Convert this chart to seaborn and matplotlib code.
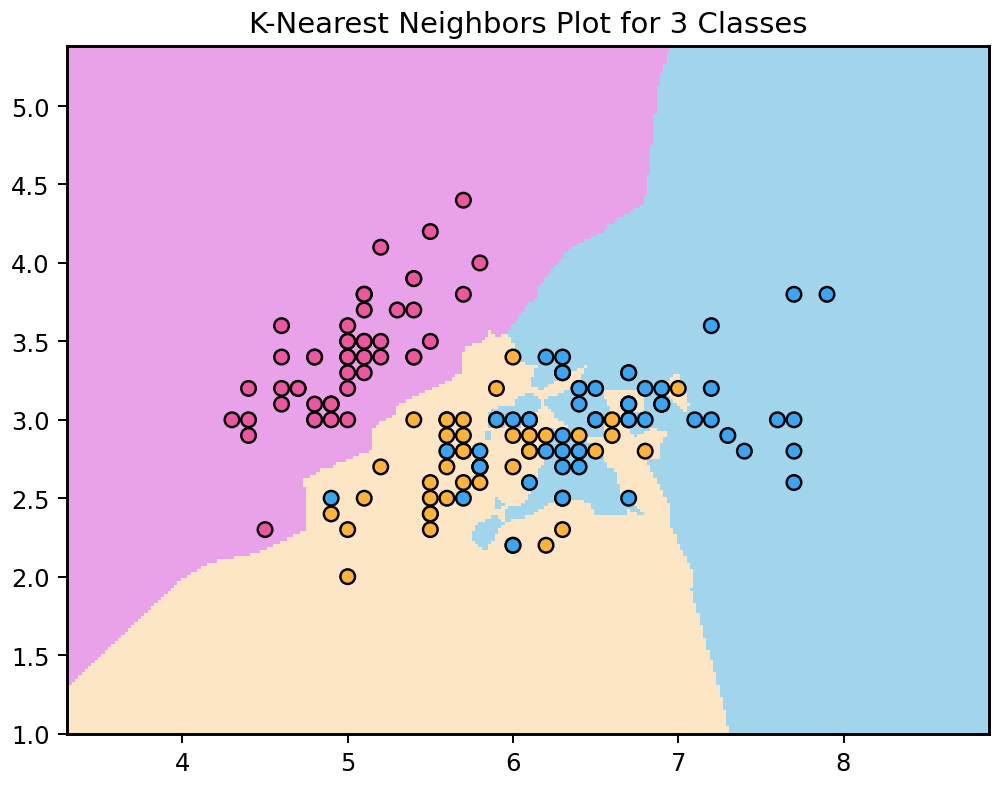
import numpy as np
import pandas as pd
import matplotlib
matplotlib.use("Agg")
import matplotlib.pyplot as plt
import seaborn as sns
from matplotlib.colors import ListedColormap

# iris sepal measurements (UCI version), one list per class
setosa_length = [5.1, 4.9, 4.7, 4.6, 5.0, 5.4, 4.6, 5.0, 4.4, 4.9,
                 5.4, 4.8, 4.8, 4.3, 5.8, 5.7, 5.4, 5.1, 5.7, 5.1,
                 5.4, 5.1, 4.6, 5.1, 4.8, 5.0, 5.0, 5.2, 5.2, 4.7,
                 4.8, 5.4, 5.2, 5.5, 4.9, 5.0, 5.5, 4.9, 4.4, 5.1,
                 5.0, 4.5, 4.4, 5.0, 5.1, 4.8, 5.1, 4.6, 5.3, 5.0]
setosa_width = [3.5, 3.0, 3.2, 3.1, 3.6, 3.9, 3.4, 3.4, 2.9, 3.1,
                3.7, 3.4, 3.0, 3.0, 4.0, 4.4, 3.9, 3.5, 3.8, 3.8,
                3.4, 3.7, 3.6, 3.3, 3.4, 3.0, 3.4, 3.5, 3.4, 3.2,
                3.1, 3.4, 4.1, 4.2, 3.1, 3.2, 3.5, 3.1, 3.0, 3.4,
                3.5, 2.3, 3.2, 3.5, 3.8, 3.0, 3.8, 3.2, 3.7, 3.3]
versicolor_length = [7.0, 6.4, 6.9, 5.5, 6.5, 5.7, 6.3, 4.9, 6.6, 5.2,
                     5.0, 5.9, 6.0, 6.1, 5.6, 6.7, 5.6, 5.8, 6.2, 5.6,
                     5.9, 6.1, 6.3, 6.1, 6.4, 6.6, 6.8, 6.7, 6.0, 5.7,
                     5.5, 5.5, 5.8, 6.0, 5.4, 6.0, 6.7, 6.3, 5.6, 5.5,
                     5.5, 6.1, 5.8, 5.0, 5.6, 5.7, 5.7, 6.2, 5.1, 5.7]
versicolor_width = [3.2, 3.2, 3.1, 2.3, 2.8, 2.8, 3.3, 2.4, 2.9, 2.7,
                    2.0, 3.0, 2.2, 2.9, 2.9, 3.1, 3.0, 2.7, 2.2, 2.5,
                    3.2, 2.8, 2.5, 2.8, 2.9, 3.0, 2.8, 3.0, 2.9, 2.6,
                    2.4, 2.4, 2.7, 2.7, 3.0, 3.4, 3.1, 2.3, 3.0, 2.5,
                    2.6, 3.0, 2.6, 2.3, 2.7, 3.0, 2.9, 2.9, 2.5, 2.8]
virginica_length = [6.3, 5.8, 7.1, 6.3, 6.5, 7.6, 4.9, 7.3, 6.7, 7.2,
                    6.5, 6.4, 6.8, 5.7, 5.8, 6.4, 6.5, 7.7, 7.7, 6.0,
                    6.9, 5.6, 7.7, 6.3, 6.7, 7.2, 6.2, 6.1, 6.4, 7.2,
                    7.4, 7.9, 6.4, 6.3, 6.1, 7.7, 6.3, 6.4, 6.0, 6.9,
                    6.7, 6.9, 5.8, 6.8, 6.7, 6.7, 6.3, 6.5, 6.2, 5.9]
virginica_width = [3.3, 2.7, 3.0, 2.9, 3.0, 3.0, 2.5, 2.9, 2.5, 3.6,
                   3.2, 2.7, 3.0, 2.5, 2.8, 3.2, 3.0, 3.8, 2.6, 2.2,
                   3.2, 2.8, 2.8, 2.7, 3.3, 3.2, 2.8, 3.0, 2.8, 3.0,
                   2.8, 3.8, 2.8, 2.8, 2.6, 3.0, 3.4, 3.1, 3.0, 3.1,
                   3.1, 3.1, 2.7, 3.2, 3.3, 3.0, 2.5, 3.0, 3.4, 3.0]

class_names = ["setosa", "versicolor", "virginica"]
bg_colors = ["#e9a2ea", "#fde6c5", "#a0d5eb"]
point_colors = ["#ec589f", "#fbb33b", "#3ba5f1"]

n_neighbors = 3
h = 0.02


def knn_predict(X, y, grid, k):
    # plain majority vote of the k nearest points, ties go to the lower class
    d = np.sqrt(((grid[:, None, :] - X[None, :, :]) ** 2).sum(axis=2))
    idx = np.argsort(d, axis=1, kind="stable")[:, :k]
    labels = y[idx]
    votes = np.stack([(labels == c).sum(axis=1) for c in range(3)], axis=1)
    return votes.argmax(axis=1)


def main():
    df = pd.DataFrame({
        "sepal_length": setosa_length + versicolor_length + virginica_length,
        "sepal_width": setosa_width + versicolor_width + virginica_width,
        "species": [class_names[0]] * 50 + [class_names[1]] * 50 + [class_names[2]] * 50,
    })
    X = df[["sepal_length", "sepal_width"]].to_numpy()
    y = df["species"].map({n: i for i, n in enumerate(class_names)}).to_numpy()

    x_min, x_max = X[:, 0].min() - 1, X[:, 0].max() + 1
    y_min, y_max = X[:, 1].min() - 1, X[:, 1].max() + 1
    xx, yy = np.meshgrid(np.arange(x_min, x_max, h), np.arange(y_min, y_max, h))
    Z = knn_predict(X, y, np.c_[xx.ravel(), yy.ravel()], n_neighbors)
    Z = Z.reshape(xx.shape)

    plt.rcParams["axes.linewidth"] = 1.2
    fig = plt.figure(figsize=(1000 / 175, 791 / 175), dpi=175)
    ax = fig.add_axes([0.0667, 0.0714, 0.9223, 0.8686])
    ax.pcolormesh(xx, yy, Z, cmap=ListedColormap(bg_colors), shading="auto",
                  vmin=0, vmax=2)
    sns.scatterplot(data=df, x="sepal_length", y="sepal_width", hue="species",
                    palette=point_colors, hue_order=class_names, s=36,
                    edgecolor="black", linewidth=1.0, alpha=1.0, legend=False, ax=ax)
    ax.set_xlim(xx.min(), xx.max())
    ax.set_ylim(yy.min(), yy.max())
    ax.set_xlabel("")
    ax.set_ylabel("")
    ax.set_title("K-Nearest Neighbors Plot for 3 Classes")
    fig.savefig("out.png", dpi=175)
    plt.close(fig)


if __name__ == "__main__":
    main()
